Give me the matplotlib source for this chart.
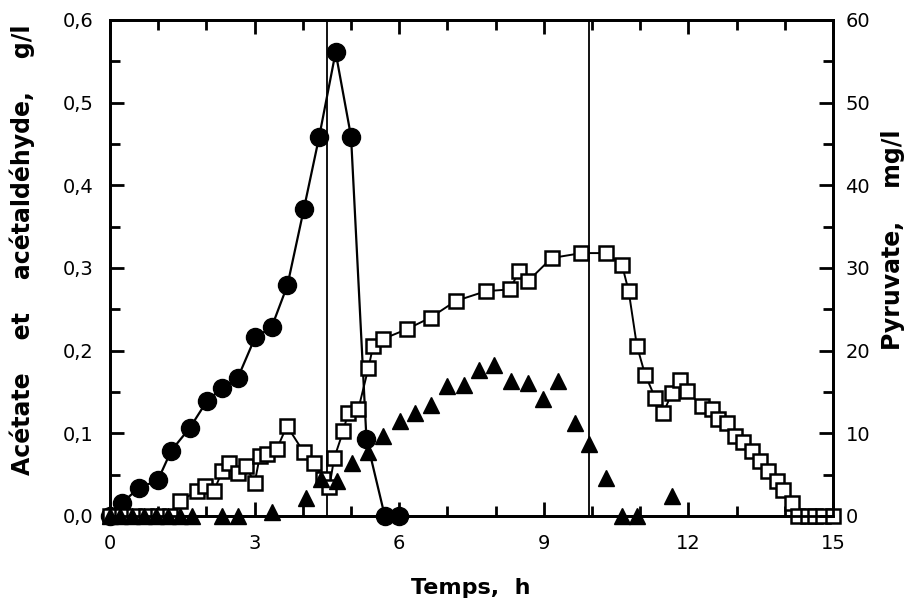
import numpy as np
import matplotlib.pyplot as plt
from matplotlib.ticker import MultipleLocator, FuncFormatter

plt.rcParams['font.family'] = ['DejaVu Sans']

# Acetaldehyde (filled circles), g/l
t_ald = [0, 0.25, 0.6, 0.99, 1.27, 1.66, 2.01, 2.33, 2.65, 3.01, 3.35, 3.68,
         4.02, 4.34, 4.68, 5.0, 5.32, 5.7, 6.0]
ald = [0, 0.016, 0.034, 0.043, 0.079, 0.107, 0.139, 0.155, 0.167, 0.216, 0.228,
       0.279, 0.371, 0.459, 0.561, 0.459, 0.093, 0, 0]

# Acetate (open squares), g/l
t_ace = [0, 0.25, 0.5, 0.75, 1.0, 1.25, 1.45, 1.8, 1.98, 2.15, 2.33, 2.47, 2.65,
         2.82, 3.0, 3.11, 3.25, 3.46, 3.67, 4.02, 4.23, 4.42, 4.55, 4.65, 4.84,
         4.94, 5.15, 5.36, 5.46, 5.66, 6.16, 6.65, 7.17, 7.8, 8.29, 8.49, 8.67,
         9.16, 9.78, 10.28, 10.62, 10.76, 10.93, 11.1, 11.31, 11.48, 11.66,
         11.83, 11.97, 12.28, 12.48, 12.62, 12.79, 12.97, 13.14, 13.31, 13.48,
         13.66, 13.83, 13.97, 14.14, 14.28, 14.48, 14.63, 14.8, 15.0]
ace = [0, 0, 0, 0, 0, 0, 0.018, 0.030, 0.036, 0.030, 0.054, 0.064, 0.052,
       0.060, 0.040, 0.073, 0.075, 0.081, 0.109, 0.077, 0.064, 0.045, 0.035,
       0.070, 0.103, 0.125, 0.129, 0.179, 0.206, 0.214, 0.226, 0.240, 0.260,
       0.272, 0.274, 0.296, 0.284, 0.312, 0.318, 0.318, 0.304, 0.272, 0.206,
       0.171, 0.143, 0.125, 0.149, 0.165, 0.151, 0.133, 0.129, 0.117, 0.113,
       0.097, 0.089, 0.079, 0.067, 0.054, 0.042, 0.032, 0.016, 0, 0, 0, 0, 0]

# Pyruvate (filled triangles), mg/l
t_pyr = [0, 0.2, 0.45, 0.7, 0.95, 1.2, 1.45, 1.7, 2.33, 2.65, 3.35, 4.06, 4.38,
         4.7, 5.01, 5.36, 5.67, 6.02, 6.33, 6.65, 7.0, 7.35, 7.66, 7.97, 8.32,
         8.67, 8.98, 9.3, 9.64, 9.93, 10.28, 10.62, 10.93, 11.66]
pyr = [0, 0, 0, 0, 0, 0, 0, 0, 0, 0, 0.5, 2.2, 4.5, 4.2, 6.4, 7.7, 9.7, 11.5,
       12.5, 13.4, 15.7, 15.9, 17.7, 18.3, 16.3, 16.1, 14.1, 16.3, 11.3, 8.7,
       4.6, 0, 0, 2.4]

# phase changes
t_lines = [4.5, 9.93]

fig = plt.figure(figsize=(9.2, 6.03), dpi=100)
ax = fig.add_axes([0.1196, 0.1443, 0.7859, 0.8226])
ax2 = ax.twinx()

ax.plot(t_ald, ald, color='black', lw=1.6, marker='o', ms=13, zorder=3, clip_on=False)
ax.plot(t_ace, ace, color='black', lw=1.4, marker='s', ms=10.5,
        mfc='white', mec='black', mew=1.8, zorder=4, clip_on=False)
ax2.plot(t_pyr, pyr, linestyle='none', marker='^', ms=12, color='black',
         clip_on=False, zorder=5)
for tl in t_lines:
    ax.axvline(tl, color='black', lw=1.3, zorder=2)

ax.set_xlim(0, 15)
ax.set_ylim(0, 0.6)
ax2.set_ylim(0, 60)
for a in (ax, ax2):
    for s in a.spines.values():
        s.set_linewidth(2)

ax.xaxis.set_major_locator(MultipleLocator(3))
ax.xaxis.set_minor_locator(MultipleLocator(1))
ax.yaxis.set_major_locator(MultipleLocator(0.1))
ax.yaxis.set_minor_locator(MultipleLocator(0.05))
ax.yaxis.set_major_formatter(FuncFormatter(lambda v, p: f'{v:.1f}'.replace('.', ',')))
ax2.yaxis.set_major_locator(MultipleLocator(10))
ax2.yaxis.set_minor_locator(MultipleLocator(5))

ax.tick_params(axis='x', which='both', direction='in', top=True, labelsize=14, pad=13)
ax.tick_params(axis='y', which='both', direction='in', labelsize=14, pad=12)
ax2.tick_params(axis='y', which='both', direction='in', labelsize=14, pad=9)
for a in (ax, ax2):
    a.tick_params(which='major', length=10, width=2)
    a.tick_params(which='minor', length=7, width=2)

fig.text(471 / 920, 1 - 588 / 603, 'Temps,  h', fontsize=16, fontweight='bold',
         ha='center', va='center')
fig.text(22 / 920, 1 - 250 / 603, 'Acétate    et    acétaldéhyde,    g/l', fontsize=17,
         fontweight='bold', rotation=90, ha='center', va='center')
fig.text(893 / 920, 1 - 240 / 603, 'Pyruvate,    mg/l', fontsize=17,
         fontweight='bold', rotation=90, ha='center', va='center')

fig.savefig('out.png', dpi=100)
